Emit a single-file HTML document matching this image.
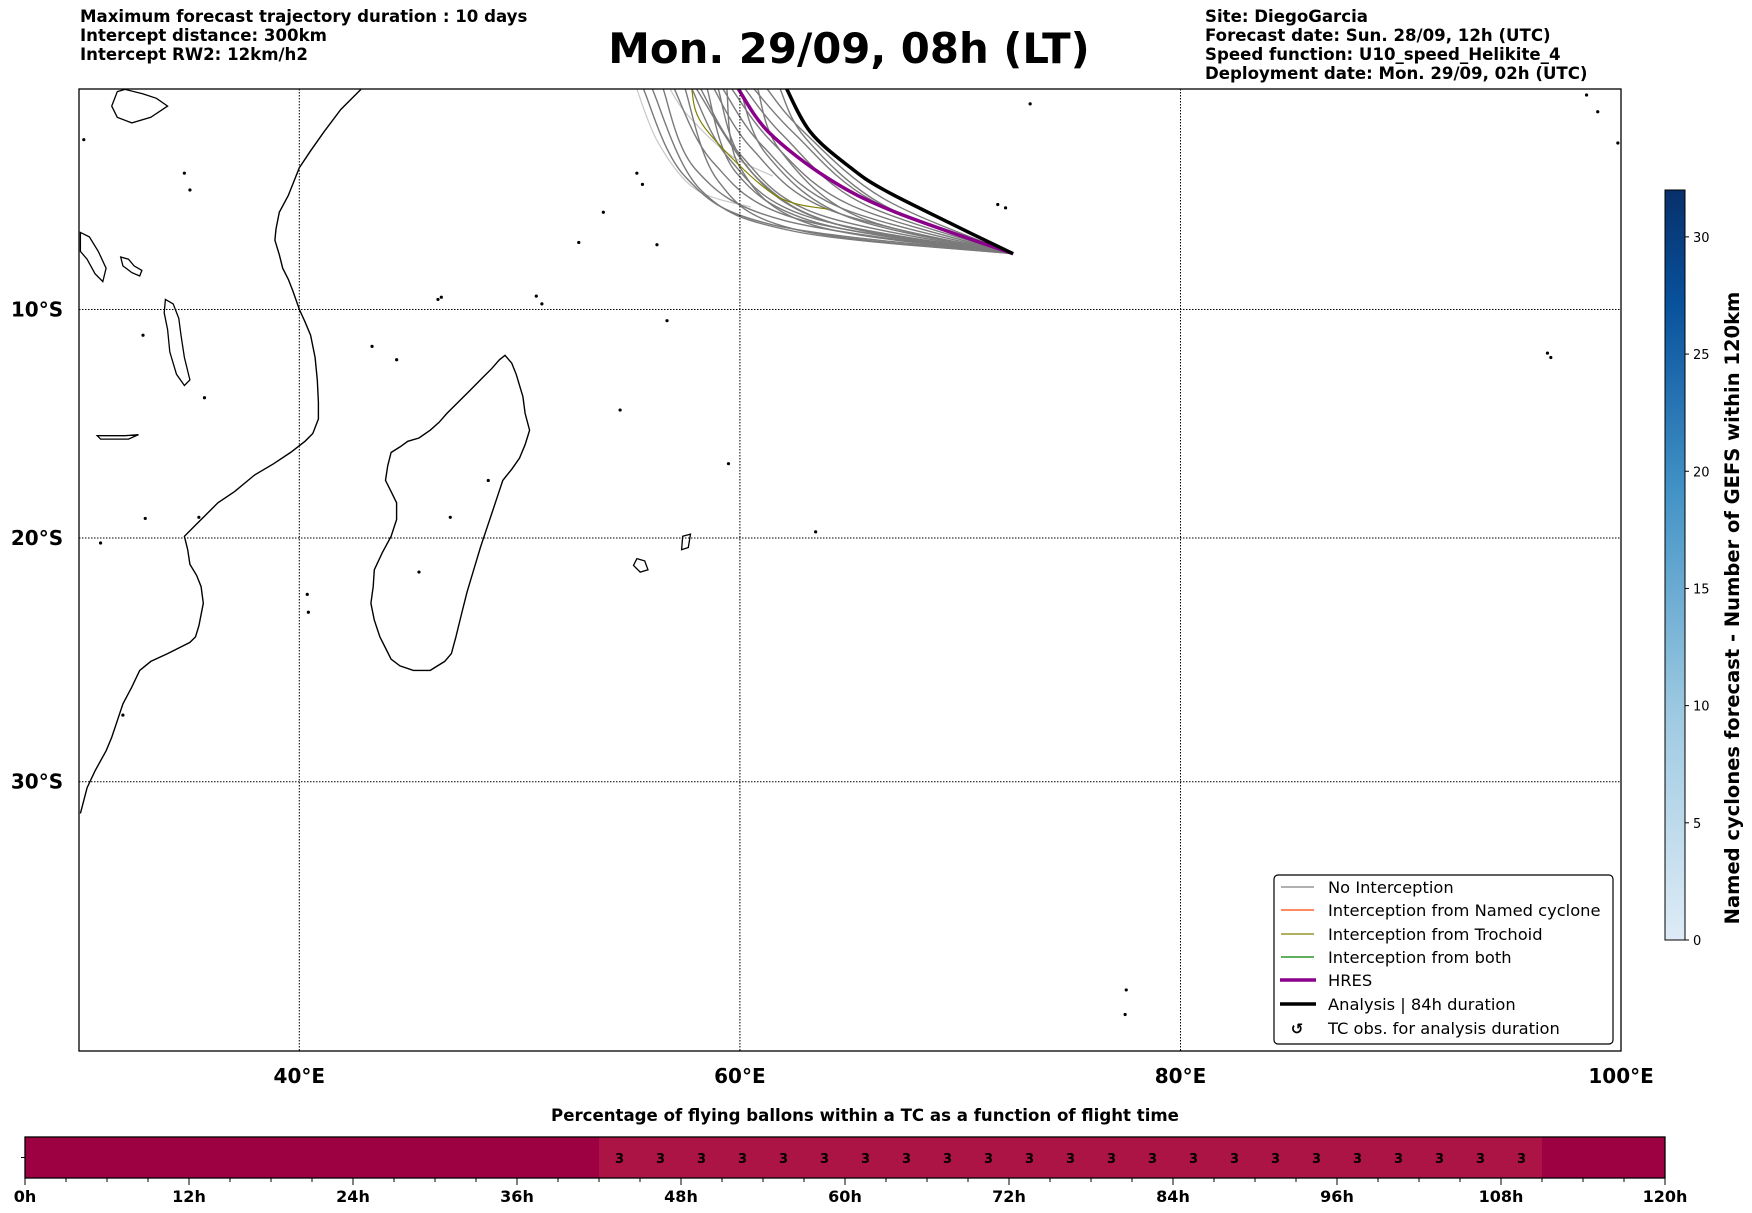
<!DOCTYPE html>
<html><head><meta charset="utf-8">
<style>
html,body{margin:0;padding:0;background:#fff;}
svg{display:block;font-family:"DejaVu Sans","Liberation Sans",sans-serif;}
</style></head>
<body>
<svg id="fig" width="1752" height="1213" viewBox="0 0 1752 1213" xmlns="http://www.w3.org/2000/svg">
<defs>
<linearGradient id="blues" x1="0" y1="1" x2="0" y2="0">
<stop offset="0" stop-color="#deebf7"/><stop offset="0.3" stop-color="#9ecae1"/><stop offset="0.6" stop-color="#4292c6"/><stop offset="0.85" stop-color="#08519c"/><stop offset="1" stop-color="#08306b"/>
</linearGradient>
<clipPath id="mapclip"><rect x="79" y="89" width="1542" height="962"/></clipPath>
</defs>
<g font-weight="bold" font-size="16.6">
<text x="80" y="22">Maximum forecast trajectory duration : 10 days</text>
<text x="80" y="41">Intercept distance: 300km</text>
<text x="80" y="60">Intercept RW2: 12km/h2</text>
</g>
<text x="849" y="63" text-anchor="middle" font-size="41.8" font-weight="bold">Mon. 29/09, 08h (LT)</text>
<g font-weight="bold" font-size="16.6">
<text x="1205" y="22">Site: DiegoGarcia</text>
<text x="1205" y="41">Forecast date: Sun. 28/09, 12h (UTC)</text>
<text x="1205" y="60">Speed function: U10_speed_Helikite_4</text>
<text x="1205" y="79">Deployment date: Mon. 29/09, 02h (UTC)</text>
</g>
<g id="map"></g>
<g id="legend">
<rect x="1274" y="875" width="339" height="169" rx="4" fill="#fff" stroke="#000" stroke-width="1.2"/>
<g font-size="16.3">
<line x1="1281" y1="887" x2="1314" y2="887" stroke="#808080" stroke-width="1.2"/><text x="1328" y="893">No Interception</text>
<line x1="1281" y1="910" x2="1314" y2="910" stroke="#ff4500" stroke-width="1.2"/><text x="1328" y="916">Interception from Named cyclone</text>
<line x1="1281" y1="934" x2="1314" y2="934" stroke="#808000" stroke-width="1.2"/><text x="1328" y="940">Interception from Trochoid</text>
<line x1="1281" y1="957" x2="1314" y2="957" stroke="#008000" stroke-width="1.2"/><text x="1328" y="963">Interception from both</text>
<line x1="1280" y1="980" x2="1316" y2="980" stroke="#8b008b" stroke-width="3.5"/><text x="1328" y="986">HRES</text>
<line x1="1280" y1="1004" x2="1316" y2="1004" stroke="#000" stroke-width="3.5"/><text x="1328" y="1010">Analysis | 84h duration</text>
<text x="1297" y="1034" text-anchor="middle" font-size="15" font-weight="bold">↺</text><text x="1328" y="1034">TC obs. for analysis duration</text>
</g>
</g>
<g id="cbar"></g>
<g id="timebar"></g>
</svg>
<script>
// ---- data ----
const lonTicks = [40, 60, 80, 100];
const latTicks = [10, 20, 30];
const hresLon = [59.9, 61.3, 64.0, 67.0, 72.4];
const hresLat = [0.0, 2.0, 4.1, 5.6, 7.5];
const anaLon = [62.1, 63.2, 65.0, 66.5, 69.5, 72.4];
const anaLat = [0.0, 2.0, 3.6, 4.6, 6.1, 7.5];
const membersLon = [
 [55.6,57.5,61.5,72.4],[56.5,58.0,62.0,72.4],[57.0,58.8,62.5,72.4],[57.8,59.5,63.0,72.4],
 [58.2,60.0,63.5,72.4],[58.8,60.5,64.0,72.4],[59.2,61.0,64.5,72.4],[59.6,61.5,65.0,72.4],
 [60.2,62.0,65.5,72.4],[60.6,62.5,66.0,72.4],[61.2,62.8,66.5,72.4],[57.5,59.0,62.5,72.4],
 [58.5,59.8,63.5,72.4],[59.0,60.2,63.8,72.4],[56.0,58.2,62.5,72.4],[60.0,61.2,64.8,72.4],
 [61.8,63.0,66.5,72.4],[58.0,60.8,64.5,72.4],[59.4,60.0,63.3,72.4],[60.8,61.8,65.3,72.4]
];
const membersLat = [
 [0,4.0,6.2,7.5],[0,3.7,6.0,7.5],[0,3.4,5.9,7.5],[0,3.2,5.8,7.5],
 [0,3.0,5.7,7.5],[0,2.7,5.5,7.5],[0,2.6,5.4,7.5],[0,2.5,5.3,7.5],
 [0,2.2,5.2,7.5],[0,2.1,5.1,7.5],[0,1.9,5.0,7.5],[0,4.2,6.4,7.5],
 [0,3.8,6.1,7.5],[0,3.4,6.0,7.5],[0,4.6,6.5,7.5],[0,3.0,5.8,7.5],
 [0,2.3,5.3,7.5],[0,4.1,6.2,7.5],[0,3.6,6.2,7.5],[0,2.8,5.8,7.5]
];
const lightLon = [[55.3,56.3,58.0,60.5],[56.8,57.6,59.5,61.5]];
const lightLat = [[0,2.5,4.6,5.4],[0,1.2,3.0,4.0]];
const trochLon = [57.8,58.4,61.5,64.0];
const trochLat = [0,1.8,4.8,5.5];
const cbarTicks = [0,5,10,15,20,25,30];
const hourTicks = [0,12,24,36,48,60,72,84,96,108,120];
const segStart = [0, 42, 111];
const segEnd = [42, 111, 120];
const segColor = ['#9e0142','#ab1445','#9e0142'];
const pctHours = [43.5,46.5,49.5,52.5,55.5,58.5,61.5,64.5,67.5,70.5,73.5,76.5,79.5,82.5,85.5,88.5,91.5,94.5,97.5,100.5,103.5,106.5,109.5];
const pctValues = [3,3,3,3,3,3,3,3,3,3,3,3,3,3,3,3,3,3,3,3,3,3,3];

// ---- scales ----
const NS='http://www.w3.org/2000/svg';
const kRad = 1263;
function merc(lat){return Math.log(Math.tan(Math.PI/4+lat*Math.PI/360));}
function xLon(lon){return 79 + (lon-30)*22.03;}
function yLat(lat){return 309.5 + (merc(lat)-merc(10))*kRad;}
function el(tag, attrs, parent){const e=document.createElementNS(NS,tag);for(const k in attrs)e.setAttribute(k,attrs[k]);parent.appendChild(e);return e;}
function smooth(pts){
 let d='M'+pts[0][0].toFixed(1)+','+pts[0][1].toFixed(1);
 for(let i=0;i<pts.length-1;i++){
  const p0=pts[i-1]||pts[i],p1=pts[i],p2=pts[i+1],p3=pts[i+2]||p2;
  const c1=[p1[0]+(p2[0]-p0[0])/6,p1[1]+(p2[1]-p0[1])/6];
  const c2=[p2[0]-(p3[0]-p1[0])/6,p2[1]-(p3[1]-p1[1])/6];
  d+=' C'+c1[0].toFixed(1)+','+c1[1].toFixed(1)+' '+c2[0].toFixed(1)+','+c2[1].toFixed(1)+' '+p2[0].toFixed(1)+','+p2[1].toFixed(1);
 }
 return d;
}
function track(lons,lats){return smooth(lons.map((l,i)=>[xLon(l),yLat(lats[i])]));}

const map=document.getElementById('map');
const inner=el('g',{'clip-path':'url(#mapclip)'},map);
const S=1.1173;
function poly(arr,close){return 'M'+arr.map(p=>(p[0]*S).toFixed(1)+','+(p[1]*S).toFixed(1)).join(' L')+(close?' Z':'');}
const africa=[[323,80],[305,98],[290,118],[278,135],[268,150],[262,165],[258,175],[250,190],[247,205],[246,215],[250,228],[253,240],[258,250],[262,260],[268,277],[273,288],[278,300],[282,320],[284,340],[285,360],[285,375],[280,388],[273,395],[260,405],[245,415],[228,425],[210,440],[195,450],[185,460],[175,470],[165,480],[168,492],[170,505],[176,515],[180,525],[182,540],[178,560],[175,570],[170,575],[160,580],[150,585],[135,592],[125,600],[118,615],[110,630],[105,645],[100,660],[95,672],[85,690],[78,705],[72,728]];
const coast=el('path',{d:poly(africa,false),fill:'none',stroke:'#000','stroke-width':1.4},inner);


const mada=[[452,318],[458,325],[462,335],[468,355],[470,370],[474,385],[470,398],[465,410],[458,420],[450,430],[445,445],[440,460],[435,475],[430,490],[424,510],[418,530],[413,550],[408,570],[404,585],[398,592],[385,600],[370,600],[358,596],[350,590],[345,580],[340,570],[335,555],[332,540],[334,525],[335,510],[342,495],[350,480],[355,465],[355,450],[350,440],[345,430],[347,417],[350,405],[358,400],[365,395],[375,392],[385,385],[393,378],[400,370],[410,360],[420,350],[430,340],[440,330],[447,322]];
const md=el('path',{d:poly(mada,true),fill:'none',stroke:'#000','stroke-width':1.4},inner);


const lakes=[
 [[148,268],[155,272],[160,285],[162,300],[165,320],[170,340],[165,345],[158,335],[152,315],[150,295],[147,280]],
 [[72,208],[80,212],[88,225],[95,240],[92,252],[85,245],[78,232],[72,225]],
 [[108,230],[115,232],[120,238],[127,242],[125,247],[118,244],[110,238]],
 [[105,82],[112,80],[128,84],[140,88],[150,95],[135,105],[118,110],[105,105],[100,95]],
 [[87,390],[100,390],[112,390],[124,389],[115,393],[100,393],[90,393]],
 [[570,500],[577,502],[580,510],[573,512],[567,506]],
 [[611,480],[618,478],[616,490],[610,492]]
];
lakes.forEach((l,i)=>{const p=el('path',{d:poly(l,true),fill:'none',stroke:'#000','stroke-width':1.3},inner);
 
 });
const dots=[[128,300],[183,356],[130,464],[90,486],[178,463],[165,155],[170,170],[395,266],[392,268],[333,310],[355,322],[480,265],[485,272],[540,190],[518,217],[597,287],[652,415],[555,367],[730,476],[437,430],[375,512],[403,463],[893,183],[900,186],[922,93],[588,219],[575,165],[570,155],[275,532],[276,548],[110,640],[1008,886],[1007,908],[1388,320],[1385,316],[1420,85],[1430,100],[1448,128],[75,125]];
dots.forEach(d=>{const c=el('circle',{cx:d[0]*S,cy:d[1]*S,r:1.6,fill:'#000'},inner);
 
 });
lonTicks.forEach(lon=>{if(lon<100){const g=el('line',{x1:xLon(lon),x2:xLon(lon),y1:89,y2:1051,stroke:'#000','stroke-width':1,'stroke-dasharray':'1.5,1.5'},map);
 
 }
 const t=el('text',{x:xLon(lon),y:1083,'text-anchor':'middle','font-size':20,'font-weight':'bold'},map);t.textContent=lon+'°E';
 
 });
latTicks.forEach(lat=>{const g=el('line',{x1:79,x2:1621,y1:yLat(lat),y2:yLat(lat),stroke:'#000','stroke-width':1,'stroke-dasharray':'1.5,1.5'},map);
 
 
 const t=el('text',{x:37,y:yLat(lat)+7,'text-anchor':'middle','font-size':20,'font-weight':'bold'},map);t.textContent=lat+'°S';
 
 });
lightLon.forEach((l,i)=>{const p=el('path',{d:track(l,lightLat[i]),fill:'none',stroke:'#c8c8c8','stroke-width':1.2},inner);
 
 });
membersLon.forEach((l,i)=>{const p=el('path',{d:track(l,membersLat[i]),fill:'none',stroke:'#7a7a7a','stroke-width':1.4},inner);
 
 });
const tr=el('path',{d:track(trochLon,trochLat),fill:'none',stroke:'#808000','stroke-width':1.2},inner);


const hr=el('path',{d:track(hresLon,hresLat),fill:'none',stroke:'#8b008b','stroke-width':3.5},inner);


const an=el('path',{d:track(anaLon,anaLat),fill:'none',stroke:'#000','stroke-width':3.5},inner);


const fr=el('rect',{x:79,y:89,width:1542,height:962,fill:'none',stroke:'#000','stroke-width':1.3},map);



const cb=document.getElementById('cbar');
const cy0=940, cy1=190, cmax=32;
function yC(v){return cy0-(v/cmax)*(cy0-cy1);}
const cr=el('rect',{x:1665,y:cy1,width:20,height:cy0-cy1,fill:'url(#blues)',stroke:'#000','stroke-width':1},cb);


cbarTicks.forEach(v=>{el('line',{x1:1685,x2:1689,y1:yC(v),y2:yC(v),stroke:'#000'},cb);
 const t=el('text',{x:1693,y:yC(v)+5,'font-size':13},cb);t.textContent=v;
 
 });
const cl=el('text',{x:0,y:0,transform:'translate(1739,608) rotate(-90)','text-anchor':'middle','font-size':19.5,'font-weight':'bold'},cb);
cl.textContent='Named cyclones forecast - Number of GEFS within 120km';



const tb=document.getElementById('timebar');
function xH(h){return 25+h*(1665-25)/120;}
const tt=el('text',{x:865,y:1121,'text-anchor':'middle','font-size':16.6,'font-weight':'bold'},tb);
tt.textContent='Percentage of flying ballons within a TC as a function of flight time';


segStart.forEach((s,i)=>{const r=el('rect',{x:xH(s),y:1137,width:xH(segEnd[i])-xH(s),height:41,fill:segColor[i]},tb);
 
 });
el('rect',{x:25,y:1137,width:1640,height:41,fill:'none',stroke:'#000','stroke-width':1.3},tb);
el('line',{x1:21,x2:25,y1:1157.5,y2:1157.5,stroke:'#000'},tb);
pctHours.forEach((h,i)=>{const t=el('text',{x:xH(h),y:1163,'text-anchor':'middle','font-size':13,'font-weight':'bold'},tb);t.textContent=pctValues[i];
 
 });
for(let h=0;h<=120;h+=3){el('line',{x1:xH(h),x2:xH(h),y1:1178,y2:h%12===0?1185:1182,stroke:'#000'},tb);}
hourTicks.forEach(h=>{const t=el('text',{x:xH(h),y:1202,'text-anchor':'middle','font-size':16,'font-weight':'bold'},tb);t.textContent=h+'h';
 
 });
</script>
</body></html>
